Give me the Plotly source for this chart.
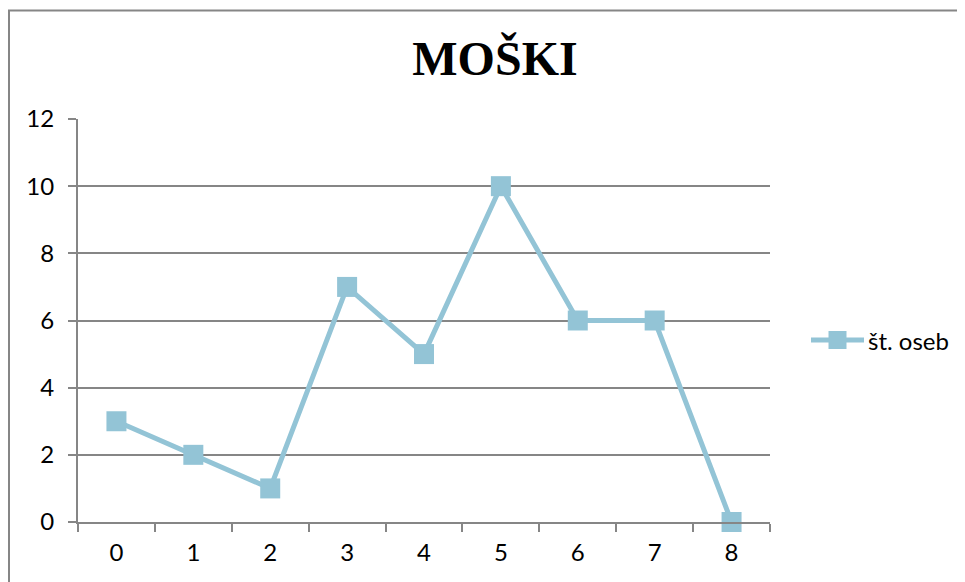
import plotly.graph_objects as go

categories = ["0", "1", "2", "3", "4", "5", "6", "7", "8"]
values = [3, 2, 1, 7, 5, 10, 6, 6, 0]
series_name = "št. oseb"
title_text = "MOŠKI"
y_ticks = [0, 2, 4, 6, 8, 10, 12]

# page offset (browser body margin)
OFF = 8
W, H = 965 - OFF, 582 - OFF
# plot area in reference page pixels
PL, PR, PT, PB = 78, 770, 119, 522
L, T = PL - OFF, PT - OFF
R = W - (PR - OFF)
B = H - (PB - OFF)
pw, ph = W - L - R, H - T - B

col = "#93C4D6"
grey = "#868686"
FS = 24


def fx(px):
    return (px - OFF - L) / pw


def fy(py):
    return (H - B - (py - OFF)) / ph


fig = go.Figure()
fig.add_trace(go.Scatter(
    x=categories, y=values, name=series_name, mode="lines+markers",
    line=dict(color=col, width=5),
    marker=dict(symbol="square", size=20, color=col, line=dict(width=0)),
    showlegend=False, cliponaxis=False,
))

# legend drawn manually (Excel style long line symbol)
leg_y = 340
shapes = [
    dict(type="rect", xref="paper", yref="paper",
         x0=fx(9), x1=fx(985), y0=fy(610), y1=fy(10.5),
         line=dict(color=grey, width=2), fillcolor="rgba(0,0,0,0)", layer="below"),
    dict(type="line", xref="paper", yref="paper",
         x0=fx(811), x1=fx(864), y0=fy(leg_y), y1=fy(leg_y),
         line=dict(color=col, width=5)),
    dict(type="rect", xref="paper", yref="paper",
         x0=fx(828.5), x1=fx(846.5), y0=fy(leg_y + 9), y1=fy(leg_y - 9),
         line=dict(width=0), fillcolor=col),
]

fig.update_layout(
    width=W, height=H,
    margin=dict(l=L, r=R, t=T, b=B),
    paper_bgcolor="white", plot_bgcolor="white",
    title=dict(text="<b>" + title_text + "</b>", x=(495 - OFF) / W, xanchor="center",
               y=1 - (58 - OFF) / H, yanchor="middle",
               font=dict(family="Liberation Serif", size=48, color="black")),
    font=dict(family="Lato", size=FS, color="black"),
    showlegend=False,
    xaxis=dict(type="category", range=[-0.5, 8.5], tickson="boundaries",
               ticks="outside", ticklen=8, tickcolor=grey, tickwidth=2,
               showline=True, linecolor=grey, linewidth=2, showgrid=False,
               zeroline=False, tickfont=dict(size=FS), ticklabelstandoff=8),
    yaxis=dict(range=[0, 12], tickvals=y_ticks, ticks="outside", ticklen=8,
               tickcolor=grey, tickwidth=2, showline=True, linecolor=grey, linewidth=2,
               showgrid=True, gridcolor=grey, gridwidth=1.5, zeroline=False,
               tickfont=dict(size=FS), ticklabelstandoff=9),
    shapes=shapes,
    annotations=[dict(text=series_name, xref="paper", yref="paper",
                      x=fx(866), y=fy(leg_y), xanchor="left", yanchor="middle",
                      showarrow=False, font=dict(family="Lato", size=FS, color="black"))],
)

fig.write_html("out.html")
